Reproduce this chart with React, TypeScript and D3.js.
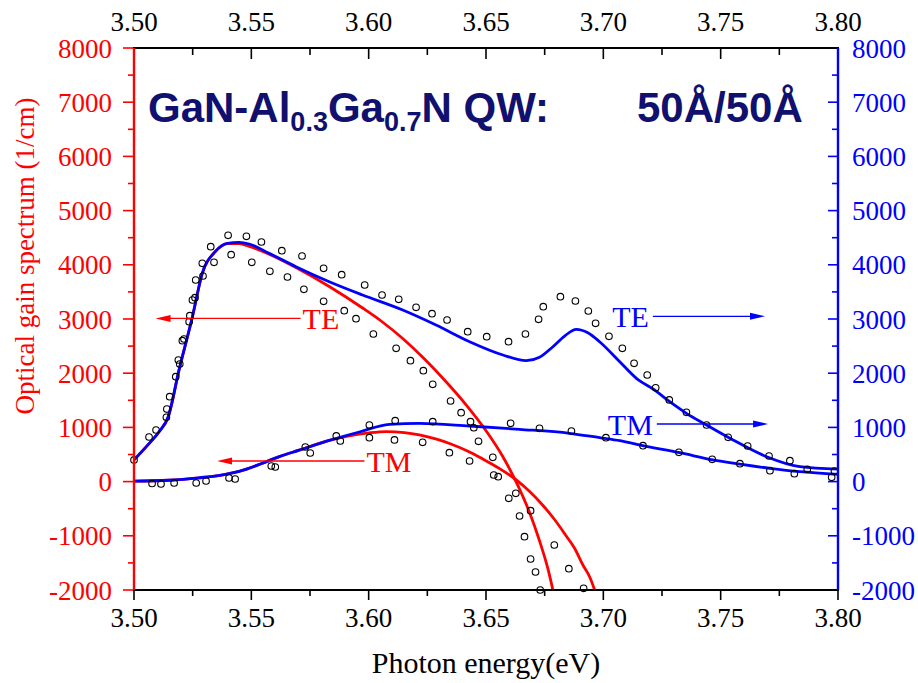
import React from "react";
import * as d3 from "d3";

// ---------- data ----------
const xTicks = [3.5, 3.55, 3.6, 3.65, 3.7, 3.75, 3.8];
const yTicks = [-2000, -1000, 0, 1000, 2000, 3000, 4000, 5000, 6000, 7000, 8000];

// theory curves [photon energy (eV), gain (1/cm)]
const teBlue: [number, number][] = [
  [3.5, 400], [3.5064, 700], [3.5107, 920], [3.5146, 1197], [3.5192, 2060], [3.5249, 3042], [3.5291, 3843],
  [3.5346, 4242], [3.5398, 4397], [3.5448, 4415], [3.5491, 4384], [3.5576, 4212], [3.569, 3965],
  [3.5832, 3688], [3.5974, 3443], [3.6145, 3166], [3.6287, 2889], [3.643, 2581], [3.6572, 2336],
  [3.6672, 2231], [3.6728, 2293], [3.6785, 2489], [3.6835, 2686], [3.6885, 2810], [3.6934, 2747],
  [3.6984, 2581], [3.707, 2212], [3.7141, 1906], [3.7215, 1700], [3.7283, 1474], [3.7354, 1260],
  [3.744, 1044], [3.7553, 768], [3.7696, 459], [3.7838, 275], [3.8, 230],
];
const teRed: [number, number][] = [
  [3.5, 400], [3.5064, 700], [3.5107, 920], [3.5146, 1197], [3.5192, 2060], [3.5249, 3042], [3.5291, 3843],
  [3.5346, 4242], [3.5398, 4390], [3.5448, 4390], [3.5491, 4340], [3.5576, 4196], [3.569, 3950],
  [3.5832, 3600], [3.5974, 3203], [3.6053, 2963], [3.6145, 2640], [3.6238, 2262], [3.6323, 1875],
  [3.6416, 1413], [3.6501, 934], [3.6572, 459], [3.6629, -11], [3.6686, -576], [3.6728, -1092],
  [3.6764, -1612], [3.6785, -2000],
];
const tmBlue: [number, number][] = [
  [3.5, 10], [3.5149, 25], [3.5277, 70], [3.5384, 130], [3.5448, 190], [3.5542, 330],
  [3.5619, 460], [3.5704, 580], [3.5832, 760], [3.596, 915], [3.6088, 1057], [3.6216, 1075],
  [3.643, 1026], [3.6643, 965], [3.6856, 891], [3.6984, 810], [3.707, 755], [3.7168, 665],
  [3.7326, 533], [3.7467, 400], [3.7582, 322], [3.771, 245], [3.7838, 183], [3.8, 135],
];
const tmRed: [number, number][] = [
  [3.5, 10], [3.5149, 25], [3.5277, 70], [3.5384, 130], [3.5448, 190], [3.5542, 330],
  [3.5619, 460], [3.5704, 580], [3.5832, 760], [3.5917, 845], [3.6003, 900], [3.6075, 923],
  [3.6152, 904], [3.6216, 860], [3.6289, 782], [3.6353, 690], [3.6421, 565], [3.6486, 417],
  [3.6558, 240], [3.6629, 30], [3.6686, -183], [3.6742, -437], [3.6792, -699], [3.6842, -1004],
  [3.6878, -1234], [3.6913, -1539], [3.6942, -1760], [3.6963, -2000],
];

// open-circle data points
const teDotsUpper: [number, number][] = [
  [3.5, 400], [3.5064, 823], [3.5138, 1186], [3.5152, 1566], [3.5178, 1935], [3.5195, 2170],
  [3.5213, 2631], [3.5238, 3061], [3.526, 3393], [3.5294, 3793], [3.5327, 4334], [3.5401, 4544],
  [3.5479, 4526], [3.5543, 4421], [3.563, 4260], [3.5716, 4162], [3.5808, 3935], [3.5885, 3817],
  [3.5983, 3627], [3.6057, 3443], [3.6128, 3363], [3.6202, 3216], [3.627, 3098], [3.6334, 2982],
  [3.6422, 2766], [3.6503, 2673], [3.6596, 2581], [3.6668, 2723], [3.6724, 2994], [3.6744, 3227],
  [3.6817, 3411], [3.6881, 3332], [3.6936, 3148], [3.6967, 2921], [3.7024, 2681], [3.7081, 2459],
  [3.7131, 2183], [3.7187, 1967], [3.7223, 1732], [3.7281, 1506], [3.7354, 1279], [3.744, 1044],
  [3.7532, 817], [3.7615, 657], [3.7706, 472], [3.7795, 386], [3.7869, 227], [3.7985, 196],
];
const teDotsLower: [number, number][] = [
  [3.5094, 952], [3.514, 1339], [3.5189, 2244], [3.5206, 2600], [3.5235, 2950], [3.5249, 3351],
  [3.5263, 3720], [3.5291, 4028], [3.5341, 4046], [3.5414, 4186], [3.5502, 4046], [3.5579, 3880],
  [3.5654, 3775], [3.5724, 3548], [3.5808, 3327], [3.5896, 3153], [3.5946, 3006], [3.602, 2723],
  [3.6117, 2459], [3.6178, 2231], [3.6233, 2046], [3.6273, 1795], [3.6349, 1487], [3.6394, 1271],
  [3.6448, 994], [3.6468, 744], [3.6529, 448], [3.6552, 90], [3.6597, -308], [3.6643, -635],
  [3.6664, -1017], [3.669, -1428], [3.6711, -1668], [3.6731, -2000],
];
const tmDotsUpper: [number, number][] = [
  [3.5077, -35], [3.5171, -26], [3.5307, 11], [3.5431, 48], [3.5602, 269], [3.573, 638],
  [3.5862, 842], [3.6003, 1044], [3.6113, 1124], [3.6273, 1105], [3.6434, 1105], [3.6605, 1076],
  [3.6728, 983], [3.6864, 934], [3.7011, 810], [3.7169, 662], [3.7322, 541], [3.7464, 411],
  [3.7582, 330], [3.771, 201], [3.7814, 146], [3.7973, 79],
];
const tmDotsLower: [number, number][] = [
  [3.5115, -44], [3.5265, -26], [3.5405, 66], [3.5585, 288], [3.5751, 528], [3.5879, 750],
  [3.6003, 810], [3.611, 768], [3.623, 725], [3.6344, 533], [3.643, 380], [3.6533, 122],
  [3.6627, -216], [3.669, -537], [3.6791, -1170], [3.6853, -1607], [3.6916, -1969],
];

// annotation arrows: label, [from E, to E], at gain
const arrowLabels = ["TE", "TM", "TE", "TM"];
const arrowFrom = [3.571, 3.5982, 3.7211, 3.7228];
const arrowTo = [3.5092, 3.5354, 3.7689, 3.7702];
const arrowAt = [3010, 380, 3050, 1063];

const RED = "#ff0000";
const BLUE = "#0000ff";
const NAVY = "#10106e";

export default function App() {
  const W = 918, H = 683;
  const L = 134, R = 838, T = 48, B = 590;
  const x = d3.scaleLinear().domain([3.5, 3.8]).range([L, R]);
  const y = d3.scaleLinear().domain([-2000, 8000]).range([B, T]);
  const line = d3
    .line<[number, number]>()
    .x((d) => x(d[0]))
    .y((d) => y(d[1]))
    .curve(d3.curveMonotoneX);

  const xMinor = d3.range(3.5, 3.8001, 0.025);
  const yMinor = d3.range(-2000, 8001, 500);
  const serif = "'Liberation Serif', 'Times New Roman', serif";
  const sans = "'Liberation Sans', Arial, sans-serif";

  const dots = (arr: [number, number][], key: string) =>
    arr.map((d, i) => (
      <circle key={key + i} cx={x(d[0])} cy={y(d[1])} r={3.3} fill="none" stroke="#000" strokeWidth={1.1} />
    ));

  const arrowColors = [RED, RED, BLUE, BLUE];

  return (
    <svg width={W} height={H} style={{ position: "absolute", left: 0, top: 0, background: "#fff" }}>
      {/* curves */}
      <path d={line(teRed) || ""} fill="none" stroke={RED} strokeWidth={2.8} />
      <path d={line(tmRed) || ""} fill="none" stroke={RED} strokeWidth={2.8} />
      <path d={line(teBlue) || ""} fill="none" stroke={BLUE} strokeWidth={2.8} />
      <path d={line(tmBlue) || ""} fill="none" stroke={BLUE} strokeWidth={2.8} />

      {dots(teDotsUpper, "a")}
      {dots(teDotsLower, "b")}
      {dots(tmDotsUpper, "c")}
      {dots(tmDotsLower, "d")}

      {/* arrows */}
      {arrowLabels.map((lab, i) => {
        const x0 = x(arrowFrom[i]);
        const x1 = x(arrowTo[i]);
        const yy = y(arrowAt[i]);
        const dir = x1 > x0 ? 1 : -1;
        const c = arrowColors[i];
        const head = `${x1},${yy} ${x1 - dir * 15},${yy - 3.5} ${x1 - dir * 15},${yy + 3.5}`;
        const tx = dir < 0 ? x0 + 2 : x0 - 4;
        return (
          <g key={"ar" + i}>
            <line x1={x0} y1={yy} x2={x1 - dir * 10} y2={yy} stroke={c} strokeWidth={1.3} />
            <polygon points={head} fill={c} />
            <text
              x={tx}
              y={yy + 11}
              fill={c}
              fontFamily={serif}
              fontSize={30}
              textAnchor={dir < 0 ? "start" : "end"}
            >
              {lab}
            </text>
          </g>
        );
      })}

      {/* title */}
      <text x={148} y={122} fill={NAVY} fontFamily={sans} fontWeight="bold" fontSize={42}>
        GaN-Al
        <tspan fontSize={27} dy={9}>0.3</tspan>
        <tspan dy={-9}>Ga</tspan>
        <tspan fontSize={27} dy={9}>0.7</tspan>
        <tspan dy={-9}>N QW:</tspan>
      </text>
      <text x={637} y={122} fill={NAVY} fontFamily={sans} fontWeight="bold" fontSize={42}>
        50Å/50Å
      </text>

      {/* bottom axis ticks (outward), top ticks (inward) */}
      {xMinor.map((v, i) => {
        const major = i % 2 === 0;
        return (
          <g key={"xt" + i}>
            <line x1={x(v)} x2={x(v)} y1={B} y2={B + (major ? 10 : 6)} stroke="#000" strokeWidth={1.6} />
            <line x1={x(v)} x2={x(v)} y1={T} y2={T + (major ? 11 : 7)} stroke="#000" strokeWidth={1.6} />
          </g>
        );
      })}
      {xTicks.map((v) => (
        <g key={"xl" + v}>
          <text x={x(v)} y={627} textAnchor="middle" fontFamily={serif} fontSize={27} fill="#000">
            {d3.format(".2f")(v)}
          </text>
          <text x={x(v)} y={31} textAnchor="middle" fontFamily={serif} fontSize={27} fill="#000">
            {d3.format(".2f")(v)}
          </text>
        </g>
      ))}

      {/* left (red, outward) and right (blue, inward) ticks */}
      {yMinor.map((v, i) => {
        const major = i % 2 === 0;
        return (
          <g key={"yt" + i}>
            <line x1={L - (major ? 11 : 6)} x2={L} y1={y(v)} y2={y(v)} stroke={RED} strokeWidth={1.6} />
            <line x1={R - (major ? 10 : 6)} x2={R} y1={y(v)} y2={y(v)} stroke={BLUE} strokeWidth={1.6} />
          </g>
        );
      })}
      {yTicks.map((v) => (
        <g key={"yl" + v}>
          <text x={112} y={y(v) + 9.5} textAnchor="end" fontFamily={serif} fontSize={27} fill={RED}>
            {v}
          </text>
          <text x={852} y={y(v) + 9.5} textAnchor="start" fontFamily={serif} fontSize={27} fill={BLUE}>
            {v}
          </text>
        </g>
      ))}

      {/* frame */}
      <line x1={L - 1} x2={R + 1} y1={T} y2={T} stroke="#000" strokeWidth={2} />
      <line x1={L - 1} x2={R + 1} y1={B} y2={B} stroke="#000" strokeWidth={2} />
      <line x1={L} x2={L} y1={T} y2={B} stroke={RED} strokeWidth={2.4} />
      <line x1={R} x2={R} y1={T} y2={B} stroke={BLUE} strokeWidth={2.4} />

      {/* axis titles */}
      <text x={(L + R) / 2} y={673} textAnchor="middle" fontFamily={serif} fontSize={30} fill="#000">
        Photon energy(eV)
      </text>
      <text
        x={0}
        y={0}
        transform={`translate(34, ${(T + B) / 2 - 63}) rotate(-90)`}
        textAnchor="middle"
        fontFamily={serif}
        fontSize={27}
        fill={RED}
      >
        Optical gain spectrum (1/cm)
      </text>
    </svg>
  );
}
